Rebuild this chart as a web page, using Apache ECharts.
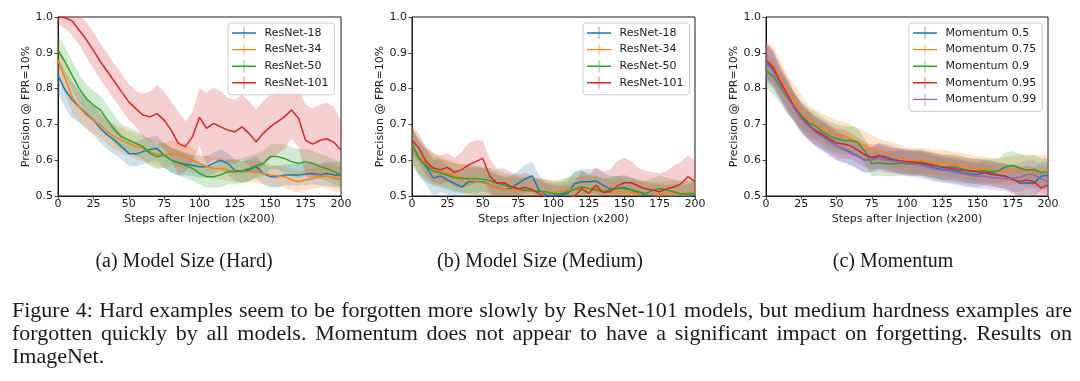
<!DOCTYPE html>
<html><head><meta charset="utf-8">
<script src="https://cdn.jsdelivr.net/npm/echarts@6/dist/echarts.min.js"></script>
<style>html,body{margin:0;padding:0;background:#fff}#c{width:1080px;height:381px}</style>
</head><body><div id="c"></div>
<script>
// ---------- data ----------
const steps = [0,5,10,15,20,25,30,35,40,45,50,55,60,65,70,75,80,85,90,95,100,105,110,115,120,125,130,135,140,145,150,155,160,165,170,175,180,185,190,195,200];
const xTicks = [0,25,50,75,100,125,150,175,200];
const yTicks = [0.5,0.6,0.7,0.8,0.9,1.0];

const modelNames = ['ResNet-18','ResNet-34','ResNet-50','ResNet-101'];
const momentumNames = ['Momentum 0.5','Momentum 0.75','Momentum 0.9','Momentum 0.95','Momentum 0.99'];

// (a) Model Size (Hard)
const a_r18 = [0.837,0.796,0.768,0.749,0.730,0.712,0.689,0.670,0.656,0.638,0.619,0.617,0.624,0.630,0.633,0.614,0.600,0.593,0.589,0.586,0.582,0.582,0.591,0.600,0.591,0.572,0.568,0.572,0.582,0.563,0.554,0.554,0.559,0.559,0.559,0.561,0.563,0.559,0.563,0.559,0.559];
const a_r34 = [0.879,0.828,0.777,0.749,0.726,0.712,0.698,0.679,0.665,0.656,0.647,0.638,0.633,0.624,0.617,0.614,0.619,0.617,0.610,0.600,0.591,0.582,0.577,0.577,0.572,0.570,0.568,0.568,0.568,0.563,0.559,0.556,0.554,0.545,0.540,0.545,0.549,0.554,0.556,0.549,0.545];
const a_r50 = [0.907,0.875,0.837,0.800,0.772,0.754,0.740,0.712,0.684,0.665,0.656,0.647,0.638,0.619,0.610,0.614,0.600,0.593,0.586,0.577,0.563,0.554,0.554,0.559,0.568,0.568,0.570,0.577,0.584,0.591,0.610,0.610,0.605,0.596,0.591,0.596,0.591,0.582,0.577,0.568,0.559];
const a_r101 = [1.0,0.998,0.989,0.963,0.937,0.907,0.875,0.847,0.819,0.791,0.763,0.744,0.726,0.721,0.730,0.712,0.684,0.647,0.638,0.665,0.720,0.689,0.703,0.693,0.684,0.679,0.693,0.675,0.651,0.675,0.693,0.707,0.721,0.740,0.717,0.655,0.645,0.655,0.660,0.650,0.628];
const a_sd18 = [0.05,0.05,0.05,0.045,0.04,0.04,0.04,0.04,0.04,0.035,0.035,0.035,0.035,0.035,0.035,0.035,0.035,0.035,0.03,0.03,0.03,0.03,0.03,0.03,0.03,0.03,0.03,0.03,0.03,0.03,0.03,0.03,0.03,0.03,0.03,0.03,0.03,0.03,0.035,0.035,0.035];
const a_sd34 = [0.045,0.045,0.045,0.04,0.04,0.04,0.035,0.035,0.035,0.035,0.035,0.035,0.035,0.035,0.035,0.035,0.035,0.035,0.035,0.035,0.03,0.03,0.03,0.03,0.03,0.03,0.03,0.03,0.03,0.03,0.03,0.03,0.03,0.03,0.03,0.03,0.03,0.03,0.035,0.035,0.035];
const a_sd50 = [0.04,0.04,0.04,0.04,0.04,0.04,0.04,0.04,0.04,0.035,0.035,0.035,0.035,0.035,0.035,0.035,0.035,0.035,0.035,0.035,0.03,0.03,0.03,0.035,0.035,0.035,0.035,0.035,0.035,0.035,0.035,0.035,0.04,0.04,0.04,0.035,0.035,0.035,0.035,0.035,0.035];
const a_sd101 = [0.02,0.03,0.04,0.04,0.05,0.05,0.05,0.05,0.05,0.05,0.05,0.05,0.06,0.07,0.08,0.08,0.08,0.09,0.07,0.07,0.08,0.10,0.10,0.10,0.09,0.09,0.09,0.09,0.09,0.09,0.09,0.09,0.09,0.08,0.08,0.10,0.10,0.10,0.10,0.10,0.08];

// (b) Model Size (Medium)
const b_r18 = [0.640,0.605,0.582,0.550,0.556,0.545,0.535,0.525,0.540,0.540,0.540,0.531,0.523,0.519,0.521,0.535,0.548,0.556,0.515,0.503,0.500,0.503,0.507,0.535,0.540,0.540,0.542,0.530,0.520,0.521,0.524,0.517,0.507,0.503,0.500,0.498,0.497,0.497,0.497,0.498,0.502];
const b_r34 = [0.640,0.610,0.591,0.577,0.568,0.563,0.556,0.550,0.545,0.540,0.537,0.531,0.523,0.519,0.517,0.517,0.515,0.517,0.512,0.512,0.509,0.512,0.517,0.517,0.521,0.521,0.521,0.517,0.512,0.512,0.512,0.510,0.507,0.507,0.505,0.503,0.507,0.509,0.507,0.509,0.512];
const b_r50 = [0.645,0.605,0.585,0.569,0.565,0.558,0.551,0.549,0.549,0.548,0.547,0.543,0.536,0.530,0.525,0.520,0.516,0.514,0.513,0.512,0.506,0.506,0.512,0.519,0.526,0.521,0.517,0.512,0.517,0.521,0.521,0.517,0.512,0.507,0.515,0.521,0.517,0.512,0.506,0.506,0.507];
const b_r101 = [0.656,0.633,0.596,0.578,0.573,0.580,0.566,0.573,0.587,0.596,0.605,0.555,0.536,0.537,0.526,0.520,0.524,0.518,0.506,0.496,0.490,0.488,0.492,0.500,0.520,0.508,0.530,0.510,0.512,0.528,0.537,0.537,0.528,0.520,0.517,0.512,0.520,0.525,0.534,0.554,0.540];
const b_sd18 = [0.05,0.05,0.05,0.05,0.045,0.04,0.04,0.04,0.04,0.04,0.04,0.04,0.035,0.035,0.035,0.035,0.04,0.04,0.04,0.035,0.035,0.035,0.035,0.035,0.035,0.035,0.035,0.035,0.035,0.035,0.035,0.035,0.035,0.035,0.035,0.035,0.035,0.035,0.035,0.035,0.035];
const b_sd34 = [0.05,0.05,0.045,0.045,0.04,0.04,0.04,0.04,0.04,0.04,0.04,0.04,0.04,0.035,0.035,0.035,0.035,0.035,0.035,0.035,0.035,0.035,0.035,0.035,0.035,0.035,0.035,0.035,0.035,0.035,0.035,0.035,0.035,0.035,0.035,0.035,0.035,0.035,0.035,0.035,0.035];
const b_sd50 = [0.05,0.045,0.045,0.04,0.04,0.04,0.04,0.04,0.04,0.04,0.035,0.035,0.035,0.035,0.035,0.035,0.035,0.035,0.035,0.035,0.035,0.035,0.04,0.045,0.045,0.04,0.04,0.035,0.035,0.035,0.035,0.035,0.035,0.035,0.035,0.035,0.035,0.035,0.035,0.035,0.035];
const b_sd101 = [0.04,0.04,0.04,0.04,0.04,0.04,0.04,0.05,0.06,0.06,0.05,0.05,0.04,0.04,0.04,0.04,0.04,0.04,0.04,0.04,0.04,0.04,0.04,0.04,0.05,0.05,0.05,0.06,0.06,0.07,0.07,0.06,0.05,0.05,0.05,0.05,0.05,0.06,0.06,0.06,0.06];

// (c) Momentum
const c_m05 = [0.875,0.855,0.815,0.780,0.748,0.720,0.700,0.680,0.668,0.655,0.640,0.632,0.622,0.612,0.600,0.602,0.612,0.610,0.603,0.598,0.595,0.592,0.590,0.585,0.578,0.575,0.573,0.570,0.565,0.562,0.560,0.565,0.565,0.558,0.555,0.548,0.535,0.537,0.535,0.555,0.558];
const c_m075 = [0.880,0.865,0.830,0.795,0.765,0.738,0.715,0.700,0.690,0.680,0.670,0.668,0.660,0.650,0.640,0.630,0.625,0.620,0.615,0.608,0.600,0.598,0.600,0.596,0.592,0.595,0.590,0.588,0.585,0.580,0.575,0.575,0.572,0.570,0.568,0.572,0.575,0.570,0.570,0.568,0.575];
const c_m09 = [0.850,0.835,0.805,0.775,0.750,0.725,0.705,0.695,0.680,0.668,0.660,0.655,0.655,0.650,0.625,0.590,0.592,0.590,0.590,0.592,0.590,0.590,0.595,0.590,0.585,0.580,0.582,0.580,0.575,0.570,0.570,0.570,0.568,0.570,0.582,0.585,0.578,0.572,0.575,0.565,0.566];
const c_m095 = [0.880,0.860,0.820,0.785,0.750,0.718,0.698,0.683,0.672,0.660,0.648,0.645,0.640,0.628,0.615,0.608,0.612,0.605,0.600,0.598,0.596,0.595,0.592,0.588,0.585,0.580,0.578,0.575,0.572,0.570,0.568,0.565,0.560,0.558,0.555,0.545,0.540,0.545,0.540,0.522,0.530];
const c_m099 = [0.870,0.850,0.812,0.778,0.745,0.715,0.695,0.678,0.665,0.652,0.640,0.630,0.620,0.610,0.600,0.602,0.605,0.600,0.598,0.595,0.592,0.588,0.585,0.580,0.575,0.572,0.570,0.565,0.562,0.558,0.555,0.555,0.552,0.550,0.548,0.550,0.552,0.560,0.560,0.548,0.540];
const c_sd05 = [0.05,0.05,0.045,0.045,0.04,0.04,0.04,0.04,0.04,0.04,0.04,0.04,0.035,0.035,0.035,0.035,0.035,0.035,0.035,0.035,0.035,0.035,0.035,0.035,0.035,0.035,0.035,0.035,0.035,0.035,0.035,0.035,0.035,0.035,0.035,0.035,0.04,0.04,0.04,0.04,0.04];
const c_sd075 = [0.05,0.05,0.05,0.045,0.045,0.045,0.04,0.04,0.04,0.04,0.04,0.04,0.04,0.04,0.04,0.04,0.035,0.035,0.035,0.035,0.035,0.035,0.035,0.035,0.035,0.035,0.035,0.035,0.035,0.035,0.035,0.035,0.035,0.035,0.04,0.04,0.04,0.045,0.045,0.045,0.045];
const c_sd09 = [0.05,0.05,0.045,0.045,0.04,0.04,0.04,0.04,0.04,0.04,0.04,0.04,0.04,0.04,0.035,0.035,0.035,0.035,0.035,0.035,0.035,0.035,0.035,0.035,0.035,0.035,0.035,0.035,0.035,0.035,0.035,0.035,0.035,0.035,0.04,0.04,0.04,0.04,0.04,0.04,0.04];
const c_sd095 = [0.05,0.05,0.045,0.045,0.04,0.04,0.04,0.04,0.04,0.04,0.04,0.04,0.035,0.035,0.035,0.035,0.035,0.035,0.035,0.035,0.035,0.035,0.035,0.035,0.035,0.035,0.035,0.035,0.035,0.035,0.035,0.035,0.035,0.035,0.035,0.04,0.04,0.04,0.04,0.04,0.04];
const c_sd099 = [0.05,0.05,0.045,0.045,0.04,0.04,0.04,0.04,0.04,0.04,0.04,0.035,0.035,0.035,0.035,0.035,0.035,0.035,0.035,0.035,0.035,0.035,0.035,0.035,0.035,0.035,0.035,0.035,0.035,0.035,0.035,0.035,0.035,0.035,0.035,0.04,0.04,0.04,0.04,0.04,0.04];

const subCaptions = ['(a) Model Size (Hard)','(b) Model Size (Medium)','(c) Momentum'];
const captionLines = [
  'Figure 4: Hard examples seem to be forgotten more slowly by ResNet-101 models, but medium hardness examples are',
  'forgotten quickly by all models. Momentum does not appear to have a significant impact on forgetting. Results on',
  'ImageNet.'
];
const xName = 'Steps after Injection (x200)';
const yName = 'Precision @ FPR=10%';

// ---------- styling ----------
const colors = ['#1f77b4','#ff7f0e','#2ca02c','#d62728','#9467bd'];
const FONT = '"DejaVu Sans", sans-serif';
const SERIF = '"Liberation Serif", "Times New Roman", serif';
const TXT = '#1a1a1a';

const panels = [
  {names: modelNames, vals: [a_r18,a_r34,a_r50,a_r101], sds: [a_sd18,a_sd34,a_sd50,a_sd101],
   grid: {left:58, top:17, width:283, height:179}, legend: {left:228, top:23}, cap: 184},
  {names: modelNames, vals: [b_r18,b_r34,b_r50,b_r101], sds: [b_sd18,b_sd34,b_sd50,b_sd101],
   grid: {left:412, top:17, width:283, height:179}, legend: {left:583, top:23}, cap: 540},
  {names: momentumNames, vals: [c_m05,c_m075,c_m09,c_m095,c_m099], sds: [c_sd05,c_sd075,c_sd09,c_sd095,c_sd099],
   grid: {left:766, top:17, width:282, height:179}, legend: {left:909, top:23}, cap: 893}
];

function bandSeries(pi, vals, sd, col) {
  const pts = steps.map((s, k) => [s, vals[k] - sd[k], vals[k] + sd[k]]);
  return {
    type:'custom', xAxisIndex:pi, yAxisIndex:pi, silent:true, z:1, animation:false,
    data: pts, encode:{x:0, y:[1,2]},
    renderItem: (params, api) => {
      if (params.dataIndex !== 0) return null;
      const upper = pts.map(d => api.coord([d[0], d[2]]));
      const lower = pts.map(d => api.coord([d[0], d[1]])).reverse();
      const cs = params.coordSys;
      return {
        type:'polygon', shape:{points: upper.concat(lower)},
        style:{fill: col, opacity: 0.22},
        clipPath:{type:'rect', shape:{x:cs.x, y:cs.y, width:cs.width, height:cs.height}}
      };
    }
  };
}

const grid = [], xAxis = [], yAxis = [], legend = [], series = [];
panels.forEach((p, pi) => {
  grid.push(Object.assign({show:true, borderColor:TXT, borderWidth:1, backgroundColor:'transparent'}, p.grid));
  xAxis.push({
    type:'value', gridIndex:pi, min:xTicks[0], max:xTicks[xTicks.length-1], interval:xTicks[1]-xTicks[0],
    axisLine:{show:true, onZero:false, lineStyle:{color:TXT, width:1}},
    axisTick:{show:true, length:3.5, lineStyle:{color:TXT, width:0.8}},
    axisLabel:{color:TXT, fontSize:11, fontFamily:FONT, margin:3},
    splitLine:{show:false},
    name:xName, nameLocation:'middle', nameGap:18,
    nameTextStyle:{color:TXT, fontSize:11, fontFamily:FONT}
  });
  yAxis.push({
    type:'value', gridIndex:pi, min:yTicks[0], max:yTicks[yTicks.length-1], interval:0.1,
    axisLine:{show:true, onZero:false, lineStyle:{color:TXT, width:1}},
    axisTick:{show:true, length:3.5, lineStyle:{color:TXT, width:0.8}},
    axisLabel:{color:TXT, fontSize:11, fontFamily:FONT, margin:5, formatter:v => v.toFixed(1)},
    splitLine:{show:false},
    name:yName, nameLocation:'middle', nameGap:26,
    nameTextStyle:{color:TXT, fontSize:11, fontFamily:FONT}
  });
  legend.push({
    data:p.names, orient:'vertical', left:p.legend.left, top:p.legend.top,
    padding:[4,6,6,4], itemGap:4.6, itemWidth:25, itemHeight:12,
    icon:'path://M0,5.3H24V6.7H0Z M11.7,0H12.3V12H11.7Z',
    backgroundColor:'rgba(255,255,255,0.8)', borderColor:'#cccccc', borderWidth:1, borderRadius:3,
    textStyle:{color:TXT, fontSize:11, fontFamily:FONT, padding:[0,0,0,3], lineHeight:12},
    selectedMode:false
  });
  p.vals.forEach((vals, si) => series.push(bandSeries(pi, vals, p.sds[si], colors[si])));
  p.vals.forEach((vals, si) => {
    series.push({
      type:'line', name:p.names[si], xAxisIndex:pi, yAxisIndex:pi,
      data: steps.map((s,k) => [s, vals[k]]),
      symbol:'none', lineStyle:{color:colors[si], width:1.5}, itemStyle:{color:colors[si]},
      z:2, animation:false
    });
  });
});

// ---------- caption text ----------
const graphic = [];
panels.forEach((p, pi) => {
  graphic.push({type:'text', x:p.cap, y:262,
    style:{text:subCaptions[pi], font:'20px ' + SERIF, fill:TXT, textAlign:'center', textVerticalAlign:'middle'}});
});
const ctx = document.createElement('canvas').getContext('2d');
const capFont = '22px ' + SERIF;
ctx.font = capFont;
const capLeft = 12, capRight = 1072, capY = [311, 334, 357];
captionLines.forEach((line, li) => {
  if (li === captionLines.length - 1) {
    graphic.push({type:'text', x:capLeft, y:capY[li], style:{text:line, font:capFont, fill:TXT, textVerticalAlign:'middle'}});
    return;
  }
  const words = line.split(' ');
  const ws = words.map(w => ctx.measureText(w).width);
  const total = ws.reduce((a,b) => a+b, 0);
  const gap = (capRight - capLeft - total) / (words.length - 1);
  let x = capLeft;
  words.forEach((w, wi) => {
    graphic.push({type:'text', x:x, y:capY[li], style:{text:w, font:capFont, fill:TXT, textVerticalAlign:'middle'}});
    x += ws[wi] + gap;
  });
});

const chart = echarts.init(document.getElementById('c'));
chart.setOption({
  animation:false,
  backgroundColor:'#ffffff',
  textStyle:{fontFamily:FONT},
  grid, xAxis, yAxis, legend, series, graphic
});
</script>
</body></html>
